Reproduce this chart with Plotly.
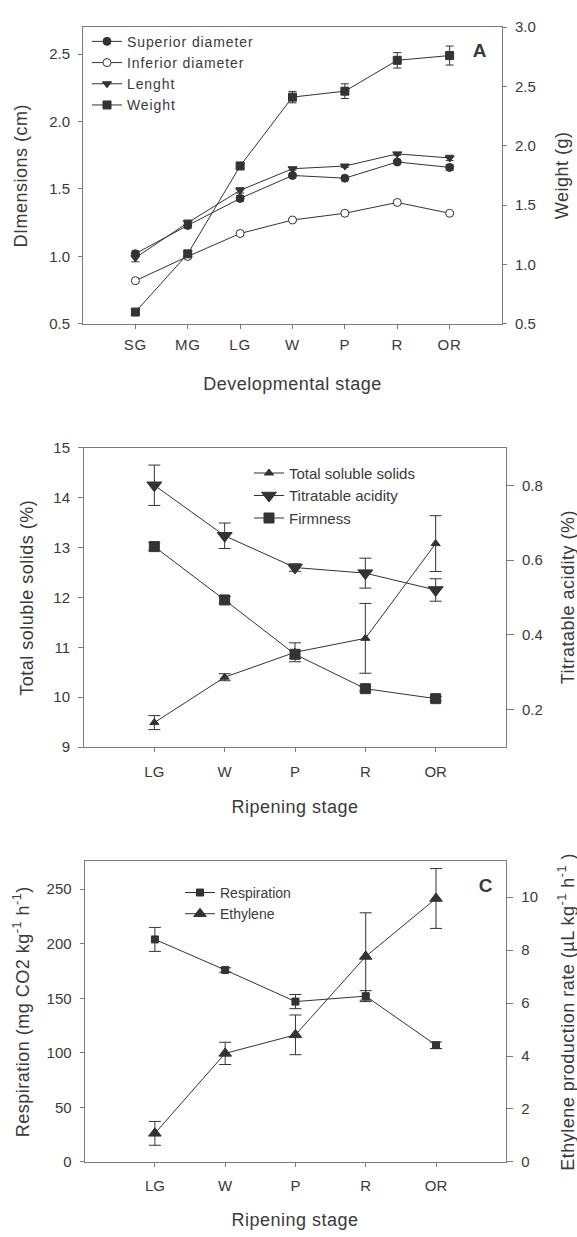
import plotly.graph_objects as go

# ---------------- data ----------------
stages_A = ["SG", "MG", "LG", "W", "P", "R", "OR"]
superior = [1.02, 1.23, 1.43, 1.60, 1.58, 1.70, 1.66]
superior_err = [0.02, 0.02, 0.02, 0.01, 0.01, 0.01, 0.02]
inferior = [0.82, 1.00, 1.17, 1.27, 1.32, 1.40, 1.32]
inferior_err = [0.01, 0.01, 0.01, 0.01, 0.01, 0.01, 0.01]
lenght = [0.99, 1.25, 1.49, 1.65, 1.67, 1.76, 1.73]
lenght_err = [0.03, 0.02, 0.02, 0.01, 0.01, 0.01, 0.02]
weight = [0.60, 1.09, 1.83, 2.41, 2.46, 2.72, 2.76]
weight_err = [0.02, 0.02, 0.03, 0.048, 0.062, 0.065, 0.08]

stages_B = ["LG", "W", "P", "R", "OR"]
tss = [9.49, 10.40, 10.90, 11.18, 13.08]
tss_err = [0.14, 0.07, 0.19, 0.70, 0.56]
acidity = [0.80, 0.665, 0.58, 0.565, 0.52]
acidity_err = [0.054, 0.034, 0.01, 0.04, 0.03]
firmness = [13.02, 11.95, 10.86, 10.17, 9.97]
firmness_err = [0.08, 0.07, 0.08, 0.05, 0.04]

stages_C = ["LG", "W", "P", "R", "OR"]
respiration = [204, 176, 147, 152, 107]
respiration_err = [11, 2, 6.5, 5, 3]
ethylene = [1.08, 4.10, 4.80, 7.76, 9.95]
ethylene_err = [0.45, 0.42, 0.75, 1.65, 1.13]

# ---------------- style ----------------
W, H = 577, 1237
LINE = "#333333"
AXC = "#7a7a7a"
TXT = "#3a3a3a"
FONT = "Liberation Sans, Arial, sans-serif"


def px(x):
    return x / W


def py(y):
    return 1 - y / H


fig = go.Figure()


def add(xs, ys, errs, name, symbol, size, xa, ya, legend, capw, fill=LINE):
    fig.add_trace(go.Scatter(
        x=list(range(len(xs))), y=ys, name=name, mode="lines+markers",
        xaxis=xa, yaxis=ya, legend=legend,
        line=dict(color=LINE, width=1),
        marker=dict(symbol=symbol, size=size, color=fill,
                    line=dict(color=LINE, width=1)),
        error_y=dict(type="data", array=errs, visible=True, color=LINE,
                     thickness=1, width=capw),
    ))


# Panel A
add(stages_A, superior, superior_err, "Superior diameter", "circle", 8, "x", "y", "legend", 4)
add(stages_A, inferior, inferior_err, "Inferior diameter", "circle", 8, "x", "y", "legend", 4, fill="white")
add(stages_A, lenght, lenght_err, "Lenght", "triangle-down", 8, "x", "y", "legend", 4)
add(stages_A, weight, weight_err, "Weight", "square", 8, "x", "y2", "legend", 4)

# Panel B
add(stages_B, tss, tss_err, "Total soluble solids", "triangle-up", 8, "x2", "y3", "legend2", 6)
add(stages_B, acidity, acidity_err, "Titratable acidity", "triangle-down", 13, "x2", "y4", "legend2", 6)
add(stages_B, firmness, firmness_err, "Firmness", "square", 10, "x2", "y3", "legend2", 6)

# Panel C
add(stages_C, respiration, respiration_err, "Respiration", "square", 7, "x3", "y5", "legend3", 6)
add(stages_C, ethylene, ethylene_err, "Ethylene", "triangle-up", 11, "x3", "y6", "legend3", 6)

tickfont = dict(family=FONT, size=15, color=TXT)


def xax(dom, labels, anchor, standoff=3):
    return dict(domain=dom, anchor=anchor, range=[-1, len(labels)],
                tickvals=list(range(len(labels))), ticktext=labels,
                ticks="outside", ticklen=4, tickcolor=AXC, tickwidth=1,
                showline=True, linecolor=AXC, linewidth=1, mirror=True,
                showgrid=False, zeroline=False, tickfont=tickfont,
                ticklabelstandoff=standoff)


def yax(dom, rng, dtick, anchor, side="left", overlay=None, ticklen=4, fmt=None):
    d = dict(domain=dom, anchor=anchor, range=rng, dtick=dtick, tick0=0,
             side=side, ticks="outside", ticklen=ticklen, tickcolor=AXC,
             tickwidth=1, showline=True, linecolor=AXC, linewidth=1,
             showgrid=False, zeroline=False, tickfont=tickfont,
             ticklabelstandoff=5)
    if overlay:
        d["overlaying"] = overlay
    if fmt:
        d["tickformat"] = fmt
    return d


domA_x = [px(83), px(502)]
domA_y = [py(319.3), py(18.3)]
domB_x = [px(84), px(506)]
domB_y = [py(748.3), py(445)]
domC_x = [px(84.6), px(506.3)]
domC_y = [py(1169), py(864.3)]

legfont14 = dict(family=FONT, size=14, color=TXT)
legfont15 = dict(family=FONT, size=15, color=TXT)

fig.update_layout(
    width=W, height=H, margin=dict(l=0, r=0, t=0, b=0),
    paper_bgcolor="white", plot_bgcolor="white",
    font=dict(family=FONT, color=TXT),
    xaxis=xax(domA_x, stages_A, "y", 3),
    yaxis=yax(domA_y, [0.5, 2.70], 0.5, "x", fmt=".1f"),
    yaxis2=yax(domA_y, [0.5, 3.0], 0.5, "x", side="right", overlay="y", fmt=".1f"),
    xaxis2=xax(domB_x, stages_B, "y3", 7),
    yaxis3=yax(domB_y, [9, 15], 1, "x2", ticklen=5),
    yaxis4=yax(domB_y, [0.1, 0.9], 0.2, "x2", side="right", overlay="y3", ticklen=7, fmt=".1f"),
    xaxis3=xax(domC_x, stages_C, "y5", 6),
    yaxis5=yax(domC_y, [0, 275.5], 50, "x3"),
    yaxis6=yax(domC_y, [0, 11.35], 2, "x3", side="right", overlay="y5", ticklen=6),
    legend=dict(x=px(87), y=py(17), xanchor="left", yanchor="top",
                bgcolor="rgba(0,0,0,0)", font=legfont14,
                tracegroupgap=0, itemwidth=30),
    legend2=dict(x=px(249), y=py(454), xanchor="left", yanchor="top",
                 bgcolor="rgba(0,0,0,0)", font=legfont15,
                 tracegroupgap=0, itemwidth=30),
    legend3=dict(x=px(180), y=py(880), xanchor="left", yanchor="top",
                 bgcolor="rgba(0,0,0,0)", font=legfont14,
                 tracegroupgap=0, itemwidth=30),
    showlegend=True,
)

titlefont = dict(family=FONT, size=18, color=TXT)
ann = []


def a(x, y, text, angle=0, font=titlefont):
    ann.append(dict(x=px(x), y=py(y), xref="paper", yref="paper", text=text,
                    showarrow=False, textangle=angle, font=font,
                    xanchor="center", yanchor="middle"))


# panel A titles
a(292.5, 380, "Developmental stage")
a(21, 169, "DImensions (cm)", -90)
a(562, 169, "Weight (g)", -90)
a(480, 42, "<b>A</b>", font=dict(family=FONT, size=19, color=TXT))
# panel B titles
a(295, 809, "Ripening stage")
a(27, 597, "Total soluble solids (%)", -90)
a(568, 597, "Titratable acidity (%)", -90)
# panel C titles
a(295, 1228, "Ripening stage")
a(21, 1017, "Respiration (mg CO2 kg<sup>-1</sup> h<sup>-1</sup>)", -90)
a(566, 1017, "Ethylene production rate (µL kg<sup>-1</sup> h<sup>-1</sup> )", -90)
a(486, 889, "<b>C</b>", font=dict(family=FONT, size=19, color=TXT))

fig.update_layout(annotations=ann)

spacing_js = """
document.body.style.margin='0';
document.body.style.overflow='hidden';
function _sp(){
  document.querySelectorAll('.legend .scrollbox').forEach(function(e){e.removeAttribute('clip-path');});
  document.querySelectorAll('.legendtext').forEach(function(e){e.style.letterSpacing='0.9px';});
  document.querySelectorAll('.annotation-text').forEach(function(e){e.style.letterSpacing='0.5px';});
  document.querySelectorAll('.xtick text').forEach(function(e){e.style.letterSpacing='0.8px';});
}
_sp(); setTimeout(_sp, 30); setTimeout(_sp, 300);
"""

fig.write_html(
    "out.html",
    config={"displayModeBar": False},
    post_script=spacing_js,
)
